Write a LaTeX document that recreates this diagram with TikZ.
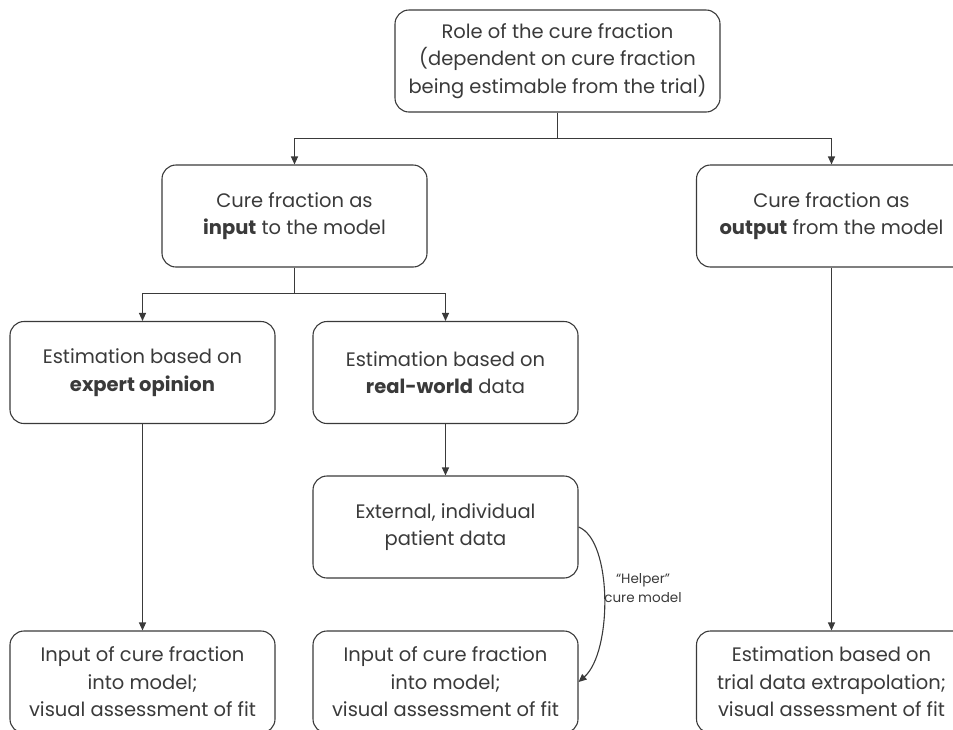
\documentclass[tikz,border=0pt]{standalone}
\usepackage{fontspec}
\setmainfont{Poppins}
\usepackage{xcolor}
\definecolor{inkgrey}{HTML}{3A3A3A}
\usepackage{tikz}
\usetikzlibrary{arrows.meta,positioning}

\begin{document}
\begin{tikzpicture}[x=1pt,y=-1pt,
  box/.style={rectangle,rounded corners=14pt,draw=inkgrey,line width=1.1pt,
    text=inkgrey,align=center,minimum width=265pt,minimum height=102pt,
    font=\fontsize{19.5}{27.5}\selectfont},
  link/.style={draw=inkgrey,line width=1.1pt},
  arr/.style={link,-{Triangle[length=8pt,width=7pt]}}]
  \clip (0,0) rectangle (953,729);
  % top level
  \node[box,minimum width=325pt] (role) at (557.5,61)
    {Role of the cure fraction\\(dependent on cure fraction\\being estimable from the trial)};
  \node[box] (input) at (294.5,216) {Cure fraction as\\\textbf{input} to the model};
  \node[box,minimum width=270pt] (output) at (831.5,216) {Cure fraction as\\\textbf{output} from the model};
  % input branch
  \node[box] (expert) at (142.5,372.5) {Estimation based on\\\textbf{expert opinion}};
  \node[box] (realw) at (445.5,372.5) {Estimation based on\\\textbf{real-world} data};
  \node[box] (ipd) at (445.5,527) {External, individual\\patient data};
  % bottom row
  \node[box] (expin) at (142.5,682) {Input of cure fraction\\into model;\\visual assessment of fit};
  \node[box] (rwin) at (445.5,682) {Input of cure fraction\\into model;\\visual assessment of fit};
  \node[box,minimum width=270pt] (extrap) at (831.5,682)
    {Estimation based on\\trial data extrapolation;\\visual assessment of fit};
  % connectors
  \draw[arr] (role.south) -- ++(0,26) -| (input.north);
  \draw[arr] (role.south) -- ++(0,26) -| (output.north);
  \draw[arr] (input.south) -- ++(0,26) -| (expert.north);
  \draw[arr] (input.south) -- ++(0,26) -| (realw.north);
  \draw[arr] (expert) -- (expin);
  \draw[arr] (realw) -- (ipd);
  \draw[arr] (output) -- (extrap);
  \draw[arr] (ipd.east) .. controls +(34,13) and +(34,-30) .. (rwin.east);
  \node[text=inkgrey,align=center,font=\fontsize{13.5}{19}\selectfont] (helper) at (643,588)
    {“Helper”\\cure model};
\end{tikzpicture}
\end{document}
